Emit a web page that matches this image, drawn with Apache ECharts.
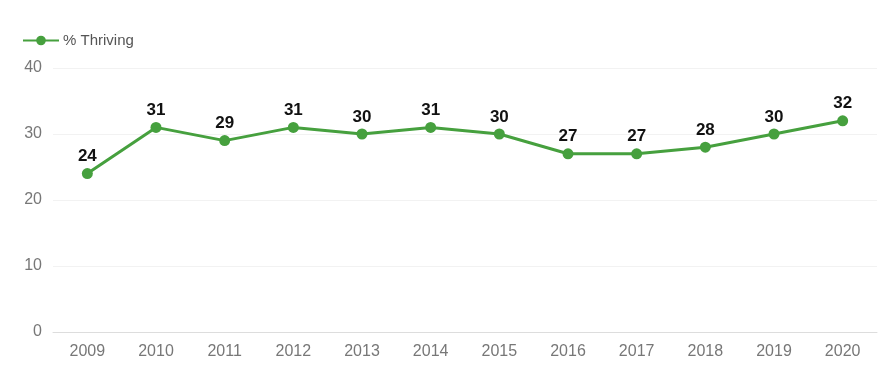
<!DOCTYPE html>
<html><head><meta charset="utf-8">
<script src="https://cdn.jsdelivr.net/npm/echarts@6/dist/echarts.min.js"></script>
<style>html,body{margin:0;padding:0;background:#fff}#c{width:893px;height:371px}</style>
</head><body><div id="c"></div>
<script>
const years = ['2009','2010','2011','2012','2013','2014','2015','2016','2017','2018','2019','2020'];
const thriving = [24,31,29,31,30,31,30,27,27,28,30,32];
const seriesName = '% Thriving';
const F = '"Liberation Sans", Arial, sans-serif';
const chart = echarts.init(document.getElementById('c'));
chart.setOption({
  animation:false,
  legend:{left:22,top:33,itemWidth:36,itemHeight:12,itemGap:6,padding:[0,0,0,0],
    textStyle:{color:'#555',fontSize:15,fontFamily:F,padding:[0,0,0,-1]},data:[seriesName]},
  grid:{left:53,right:16,top:68,bottom:39},
  xAxis:{type:'category',data:years,boundaryGap:true,
    axisLine:{lineStyle:{color:'#ddd',width:1}},axisTick:{show:false},
    axisLabel:{color:'#777',fontSize:16,margin:12,fontFamily:F}},
  yAxis:{type:'value',min:0,max:40,interval:10,
    axisLine:{show:false},axisTick:{show:false},
    splitLine:{lineStyle:{color:'#f2f2f2',width:1}},
    axisLabel:{color:'#777',fontSize:16,margin:11,fontFamily:F}},
  series:[{name:seriesName,type:'line',data:thriving,
    symbol:'circle',symbolSize:11,
    lineStyle:{color:'#46a03e',width:3},
    itemStyle:{color:'#46a03e'},
    label:{show:true,position:'top',distance:3,color:'#111',fontSize:17,fontWeight:'bold',fontFamily:F}}]
});
</script></body></html>
